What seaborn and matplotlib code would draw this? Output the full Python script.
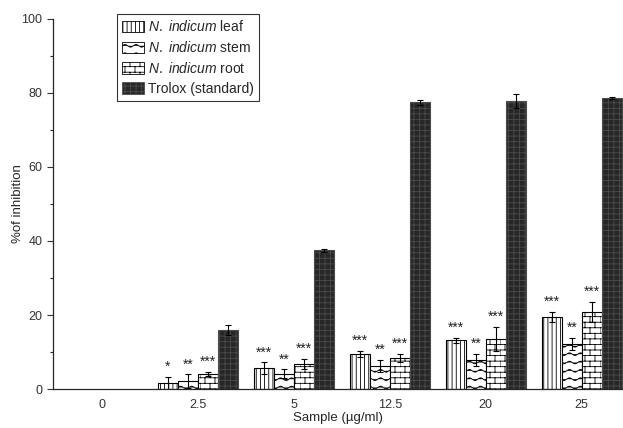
import warnings
import numpy as np
import pandas as pd
import seaborn as sns
import matplotlib
matplotlib.use("Agg")
import matplotlib.pyplot as plt
from matplotlib import hatch as mhatch
from matplotlib.path import Path

warnings.filterwarnings("ignore")

# data
concentrations = ["0", "2.5", "5", "12.5", "20", "25"]
samples = ["leaf", "stem", "root", "trolox"]
leaf = [0, 1.6, 5.6, 9.5, 13.2, 19.5]
stem = [0, 2.2, 4.2, 6.2, 7.8, 12.2]
root = [0, 4.0, 6.8, 8.4, 13.5, 20.8]
trolox = [0, 16.0, 37.5, 77.5, 77.8, 78.7]
leaf_err = [0, 1.7, 1.6, 0.8, 0.7, 1.3]
stem_err = [0, 1.8, 1.1, 1.6, 1.7, 1.6]
root_err = [0, 0.6, 1.3, 1.1, 3.3, 2.7]
trolox_err = [0, 1.4, 0.4, 0.7, 2.0, 0.3]
stars_leaf = ["", "*", "***", "***", "***", "***"]
stars_stem = ["", "**", "**", "**", "**", "**"]
stars_root = ["", "***", "***", "***", "***", "***"]
stars_trolox = ["", "", "", "", "", ""]
legend_labels = [r"$\it{N.\ indicum}$ leaf", r"$\it{N.\ indicum}$ stem",
                 r"$\it{N.\ indicum}$ root", "Trolox (standard)"]


# extra hatch patterns: wavy lines ('w') and bricks ('b')
class WaveHatch(mhatch.HatchPatternBase):
    npts = 81

    def __init__(self, hatch, density):
        self.num_lines = int(hatch.count('w') * density)
        self.num_vertices = self.num_lines * self.npts

    def set_vertices_and_codes(self, vertices, codes):
        t = np.linspace(0, 1, self.npts)
        steps, step = np.linspace(0, 1, self.num_lines, False, retstep=True)
        steps += step / 2
        for i, s in enumerate(steps):
            seg = slice(i * self.npts, (i + 1) * self.npts)
            vertices[seg, 0] = t
            vertices[seg, 1] = s + step * 0.16 * np.sin(2 * np.pi * 9 * t)
            codes[seg] = Path.LINETO
            codes[i * self.npts] = Path.MOVETO


class BrickHatch(mhatch.HatchPatternBase):
    per_row = 10

    def __init__(self, hatch, density):
        n = int(hatch.count('b') * density)
        self.rows = n + (n % 2)
        self.num_vertices = (self.rows * 2 + self.rows * self.per_row * 2) if n else 0

    def set_vertices_and_codes(self, vertices, codes):
        k = 0
        h = 1.0 / self.rows
        for i in range(self.rows):
            y = i * h
            vertices[k] = (0, y); codes[k] = Path.MOVETO
            vertices[k + 1] = (1, y); codes[k + 1] = Path.LINETO
            k += 2
            for j in range(self.per_row):
                x = (j + 0.5 * (i % 2)) / self.per_row
                vertices[k] = (x, y); codes[k] = Path.MOVETO
                vertices[k + 1] = (x, y + h); codes[k + 1] = Path.LINETO
                k += 2


mhatch._hatch_types.extend([WaveHatch, BrickHatch])

sns.set_style("ticks")
plt.rcParams["font.family"] = ["Liberation Sans", "DejaVu Sans"]
plt.rcParams["mathtext.fontset"] = "custom"
plt.rcParams["mathtext.it"] = "Liberation Sans:italic"
plt.rcParams["mathtext.rm"] = "Liberation Sans"
plt.rcParams["hatch.linewidth"] = 0.6

values = [leaf, stem, root, trolox]
errors = [leaf_err, stem_err, root_err, trolox_err]
stars = [stars_leaf, stars_stem, stars_root, stars_trolox]

df = pd.DataFrame({
    "conc": concentrations * len(samples),
    "sample": np.repeat(samples, len(concentrations)),
    "value": leaf + stem + root + trolox,
})

fig = plt.figure(figsize=(6.23, 4.28), dpi=100)
ax = fig.add_axes([0.085, 0.091, 0.915, 0.865])

dark = "#272727"
hatch_dark = "#4c4c4c"
sns.barplot(data=df, x="conc", y="value", hue="sample", order=concentrations,
            hue_order=samples, errorbar=None, width=0.83, gap=0,
            palette=["white", "white", "white", dark],
            edgecolor="black", linewidth=0.8, legend=False, ax=ax)

hatches = ["||||", "ww", "bbb", "+++"]
for cont, hatch, vals, errs, st in zip(ax.containers, hatches, values, errors, stars):
    for bar, v, e, s in zip(cont, vals, errs, st):
        if v == 0:
            bar.set_visible(False)
            continue
        bar.set_hatch(hatch)
        if hatch == "+++":
            bar.set_edgecolor(hatch_dark)
        xc = bar.get_x() + bar.get_width() / 2
        ax.errorbar(xc, v, yerr=e, fmt="none", ecolor="black",
                    elinewidth=0.8, capsize=2, capthick=0.8)
        if s:
            ax.text(xc, v + e + 0.8, s, ha="center", va="bottom", fontsize=10,
                    color="#222222")

ax.set_xlim(-0.51, 5.43)
ax.set_ylim(0, 100)
ax.set_yticks(range(0, 101, 20))
ax.set_yticks(range(10, 100, 20), minor=True)
ax.tick_params(axis="y", which="major", length=4, width=0.8, labelsize=9, colors="#333333")
ax.tick_params(axis="y", which="minor", length=2.5, width=0.8)
ax.tick_params(axis="x", length=0, labelsize=9, pad=7, colors="#333333")
ax.set_xlabel("Sample (µg/ml)", fontsize=9.5, labelpad=1)
ax.set_ylabel("%of inhibition", fontsize=9.5)
ax.yaxis.set_label_coords(-0.05, 0.5)
for sp in ["top", "right"]:
    ax.spines[sp].set_visible(False)
for sp in ["left", "bottom"]:
    ax.spines[sp].set_linewidth(0.9)

handles = [plt.Rectangle((0, 0), 1, 1, facecolor=c, edgecolor=ec, linewidth=0.6, hatch=h)
           for c, ec, h in zip(["white", "white", "white", dark],
                               ["black", "black", "black", hatch_dark], hatches)]
leg = ax.legend(handles, legend_labels, loc="upper left", bbox_to_anchor=(0.112, 1.012),
                borderaxespad=0, frameon=True, fancybox=False, fontsize=10,
                handlelength=1.6, handleheight=0.9, handletextpad=0.3,
                labelspacing=0.42, borderpad=0.35)
leg.get_frame().set_edgecolor("black")
leg.get_frame().set_linewidth(0.8)

fig.savefig("out.png", dpi=100)
